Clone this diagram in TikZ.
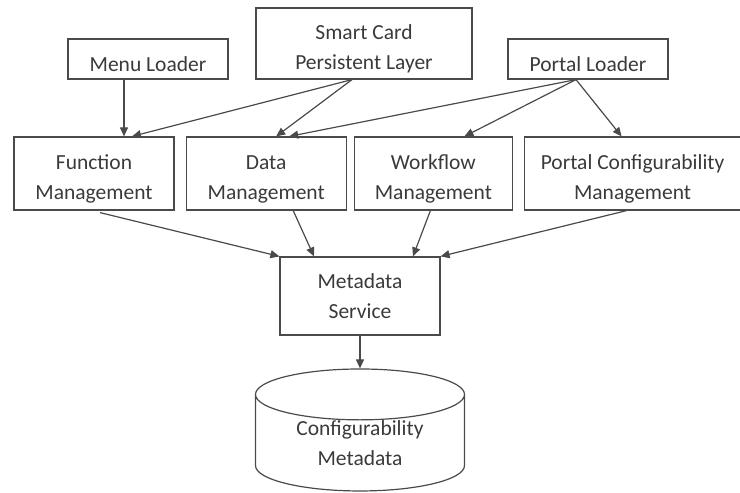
\documentclass[tikz,border=0pt]{standalone}
\usepackage{fontspec}
\setmainfont{Carlito}
\usepackage{tikz}
\usetikzlibrary{positioning}
\usetikzlibrary{shapes.geometric}
\usetikzlibrary{arrows.meta}
\definecolor{lineg}{HTML}{4A4A4A}
\definecolor{textg}{HTML}{3A3A3A}
\newcommand{\lowstrut}{\rule{0pt}{25pt}}

\begin{document}
\begin{tikzpicture}
      [x=1pt,y=1pt,
       box/.style={draw=lineg,line width=1.2pt,inner sep=0pt,align=center,
         minimum height=73pt,text=textg,font=\fontsize{21.5}{30}\selectfont},
       loader/.style={box,minimum width=160pt,minimum height=40pt},
       store/.style={box,cylinder,shape border rotate=90,aspect=0.4,
         minimum width=209pt,minimum height=119pt},
       flow/.style={color=lineg,line width=1.2pt,-{Triangle[length=9pt,width=8pt]}}]
    \useasboundingbox (0,0) rectangle (740,493);

    \node[loader]  (ML)  at (148,434) {\lowstrut Menu Loader};
    \node[box,minimum width=216pt,minimum height=71pt]  (SC)  at (364,449.5)
        {\lowstrut Smart Card\\Persistent Layer};
    \node[loader]  (PL)  at (588,434) {\lowstrut Portal Loader};

    \node[box,minimum width=160pt]  (FM)  at (94,319.5) {\lowstrut Function\\Management};
    \node[box,minimum width=160pt]  (DM)  [right=11pt of FM] {\lowstrut Data\\Management};
    \node[box,minimum width=158pt]  (WM)  [right=7pt of DM] {\lowstrut Workflow\\Management};
    \node[box,minimum width=216pt]  (PC)  [right=11pt of WM]
        {\lowstrut Portal Configurability\\Management};

    \node[box,minimum width=160pt,minimum height=78pt]  (MS)  at (360,197)
        {Metadata\\Service};
    \node[store]  (DB)  at (360,50) {Configurability\\Metadata};

    \path [flow] ([xshift=-24pt]ML.south) edge ([xshift=30pt]FM.north)
          ([xshift=-12pt]SC.south) edge ([xshift=38pt]FM.north)
                                   edge ([xshift=10pt]DM.north)
          ([xshift=-12pt]PL.south) edge ([xshift=23pt]DM.north)
                                   edge ([xshift=31pt]WM.north)
                                   edge ([xshift=-11pt]PC.north)
          ([xshift=6pt,yshift=-2pt]FM.south) edge (MS.north west)
          ([xshift=27pt]DM.south) edge ([xshift=-46pt]MS.north)
          ([xshift=-3pt]WM.south) edge ([xshift=53pt]MS.north)
          ([xshift=-6pt]PC.south) edge (MS.north east)
          (MS.south) edge (DB.top);
\end{tikzpicture}
\end{document}
